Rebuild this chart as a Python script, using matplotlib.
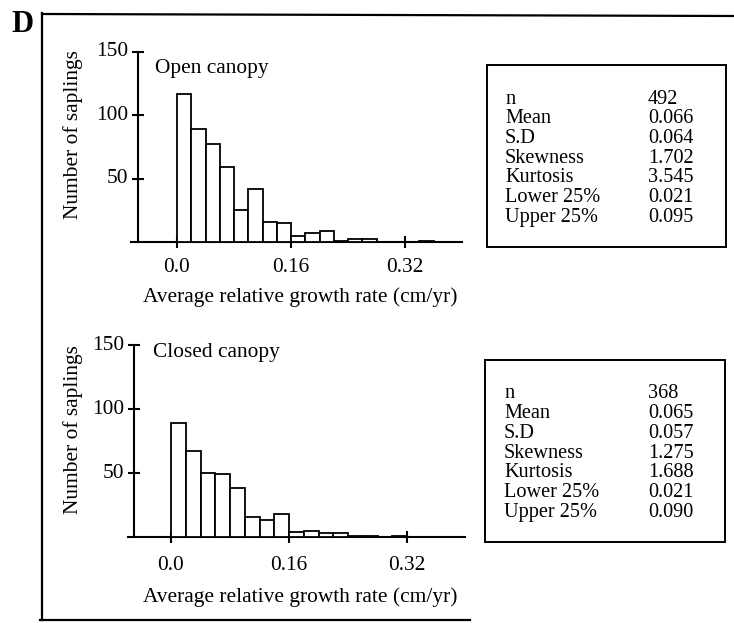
import matplotlib
matplotlib.use("Agg")
import matplotlib.pyplot as plt
from matplotlib.patches import Rectangle
from matplotlib.lines import Line2D

plt.rcParams['font.family'] = ['Liberation Serif', 'DejaVu Serif']

W, H = 734, 623

# ---- data ----
bin_edges_open = [0.00, 0.02, 0.04, 0.06, 0.08, 0.10, 0.12, 0.14, 0.16, 0.18,
                  0.20, 0.22, 0.24, 0.26, 0.28, 0.30, 0.32, 0.34]
counts_open = [117, 89, 77, 59, 25, 42, 16, 15, 5, 7, 9, 1, 2, 2, 0, 0, 0, 1]

bin_edges_closed = [0.00, 0.02, 0.04, 0.06, 0.08, 0.10, 0.12, 0.14, 0.16, 0.18,
                    0.20, 0.22, 0.24, 0.26, 0.28, 0.30]
counts_closed = [89, 67, 50, 49, 38, 16, 13, 18, 4, 5, 3, 3, 1, 1, 0, 1]

bin_width = 0.02
x_ticks = [0.0, 0.16, 0.32]
x_tick_labels = ["0.0", "0.16", "0.32"]
y_ticks = [50, 100, 150]
y_tick_labels = ["50", "100", "150"]

stat_names = ["n", "Mean", "S.D", "Skewness", "Kurtosis", "Lower 25%", "Upper 25%"]
stats_open = ["492", "0.066", "0.064", "1.702", "3.545", "0.021", "0.095"]
stats_closed = ["368", "0.065", "0.057", "1.275", "1.688", "0.021", "0.090"]

panel_titles = ["Open canopy", "Closed canopy"]
x_label = "Average relative growth rate (cm/yr)"
y_label = "Number of saplings"

fig = plt.figure(figsize=(W / 100, H / 100), dpi=100)


def fx(px):
    return px / W


def fy(py):
    return 1 - py / H


FS = 15.4
SFS = 14.6


def make_panel(x0, x1, ytop, ybot, zero_px, px_per_016, yaxis_px, edges, counts,
               title, title_xy, ylab_y, stats, box, tick_lab_y, xlab_y):
    ax = fig.add_axes([fx(x0), fy(ybot), fx(x1) - fx(x0), (ybot - ytop) / H])
    scale = 0.16 / px_per_016
    xmin = (x0 - zero_px) * scale
    xmax = (x1 - zero_px) * scale
    ax.set_xlim(xmin, xmax)
    ax.set_ylim(0, 150)
    ax.bar(edges, counts, width=bin_width, align='edge', facecolor='white',
           edgecolor='black', linewidth=1.3, zorder=3)
    for s in ['top', 'right']:
        ax.spines[s].set_visible(False)
    ax.spines['left'].set_position(('data', (yaxis_px - zero_px) * scale))
    ax.spines['left'].set_linewidth(1.5)
    ax.spines['bottom'].set_linewidth(1.5)
    ax.spines['left'].set_bounds(0, 150)
    ax.patch.set_alpha(0)
    ax.set_xticks(x_ticks)
    ax.set_xticklabels([])
    ax.set_yticks(y_ticks)
    ax.set_yticklabels([])
    ax.tick_params(axis='both', direction='inout', length=9, width=1.5)
    # tick labels as text in pixel coords
    for xv, lab in zip(x_ticks, x_tick_labels):
        px = zero_px + xv / scale
        fig.text(fx(px), fy(tick_lab_y), lab, ha='center', va='center', fontsize=FS)
    for yv, lab in zip(y_ticks, y_tick_labels):
        py = ybot - yv / 150 * (ybot - ytop)
        fig.text(fx(yaxis_px - 10), fy(py), lab, ha='right', va='center', fontsize=FS)
    fig.text(fx(title_xy[0]), fy(title_xy[1]), title, ha='left', va='center', fontsize=FS)
    fig.text(fx((x0 + x1) / 2 + 4), fy(xlab_y), x_label, ha='center', va='center', fontsize=FS)
    fig.text(fx(73), fy(ylab_y), y_label, ha='center', va='center', rotation=90, fontsize=FS)
    # stats box
    bx0, by0, bx1, by1, lab_x, val_x, row0, drow = box
    fig.add_artist(Rectangle((fx(bx0), fy(by1)), fx(bx1) - fx(bx0), (by1 - by0) / H,
                             transform=fig.transFigure, facecolor='none',
                             edgecolor='black', linewidth=1.4))
    for i, (nm, v) in enumerate(zip(stat_names, stats)):
        yy = row0 + i * drow
        fig.text(fx(lab_x), fy(yy), nm, ha='left', va='baseline', fontsize=SFS)
        fig.text(fx(val_x), fy(yy), v, ha='left', va='baseline', fontsize=SFS)
    return ax


make_panel(131, 462, 52, 242, 177, 114, 138, bin_edges_open, counts_open,
           panel_titles[0], (155, 68), 135, stats_open,
           (487, 65, 726, 247, 505, 648, 103.5, 19.7), 267, 297)
make_panel(128, 465, 345, 537, 171, 118, 134, bin_edges_closed, counts_closed,
           panel_titles[1], (153, 353), 430, stats_closed,
           (485, 360, 725, 542, 504, 648, 398.5, 19.7), 565, 597)

# outer frame
fig.add_artist(Line2D([fx(42), fx(42)], [fy(13), fy(620)], transform=fig.transFigure,
                      color='black', linewidth=1.6))
fig.add_artist(Line2D([fx(42), fx(734)], [fy(14), fy(16)], transform=fig.transFigure,
                      color='black', linewidth=1.6))
fig.add_artist(Line2D([fx(40), fx(470)], [fy(620), fy(620)], transform=fig.transFigure,
                      color='black', linewidth=1.6))

fig.text(fx(23), fy(24), "D", ha='center', va='center', fontsize=22, fontweight='bold')

fig.savefig("out.png", dpi=100)
